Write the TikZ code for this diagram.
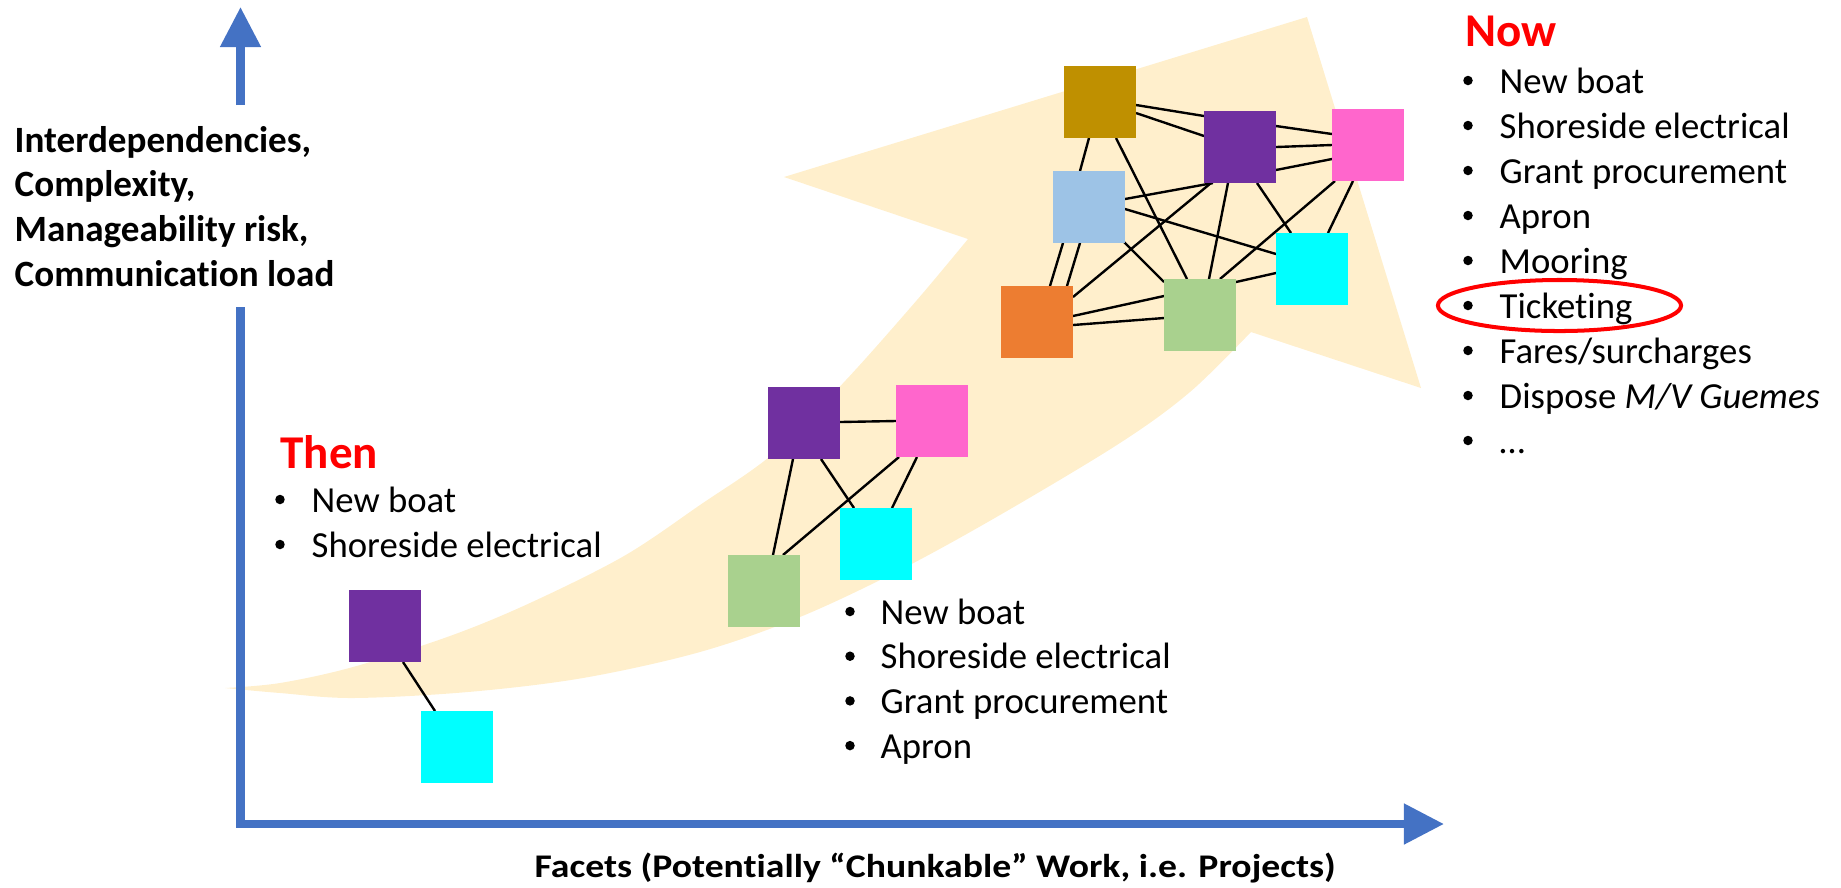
\documentclass[tikz,border=0pt]{standalone}
\usepackage{graphicx}
\usepackage{fontspec}
\setmainfont{Carlito}[Ligatures=NoCommon]
\usetikzlibrary{arrows.meta,calc,shapes.geometric}
\pgfdeclarelayer{bg}
\pgfsetlayers{bg,main}

\definecolor{sand}{HTML}{FFEFCC}
\definecolor{axisblue}{HTML}{4472C4}
\definecolor{cgold}{HTML}{BF9000}
\definecolor{cpurple}{HTML}{7030A0}
\definecolor{cpink}{HTML}{FF66CC}
\definecolor{clblue}{HTML}{9DC3E6}
\definecolor{ccyan}{HTML}{00FFFF}
\definecolor{corange}{HTML}{ED7D31}
\definecolor{cgreen}{HTML}{A9D18E}

\begin{document}
\begin{tikzpicture}[x=0.01cm,y=-0.01cm,
  sq/.style={minimum width=0.72cm, minimum height=0.72cm, inner sep=0pt, outer sep=0pt, fill=#1},
  link/.style={line width=0.68pt, black},
  axis/.style={draw=axisblue, line width=2.28pt, line join=miter,
    -{Triangle[length=11.4pt, width=11.1pt]}},
  itemtxt/.style={anchor=base west, inner sep=0pt, font=\fontsize{10.44pt}{12pt}\selectfont},
  headtxt/.style={anchor=base west, inner sep=0pt, text=red, font=\fontsize{13.37pt}{16pt}\selectfont\bfseries},
  ylabtxt/.style={anchor=base west, inner sep=0pt, font=\fontsize{10.55pt}{13pt}\selectfont\bfseries},
  xlabtxt/.style={anchor=base west, inner sep=0pt, font=\fontsize{9.4pt}{11pt}\selectfont\bfseries},
  bul/.style={fill=black}
]
\useasboundingbox (0,0) rectangle (1841,887);

% ---------- growth arrow in the background ----------
\begin{pgfonlayer}{bg}
\fill[sand] plot[smooth, tension=0.55] coordinates {(225,688) (280,693) (353,698) (468,692) (583,678) (700,652) (800,617) (900,570) (1000,515) (1120,443) (1190,392) (1251,332)}
  -- (1421,388) -- (1307,17) -- (784,177)
  -- plot[smooth, tension=0.55] coordinates {(968,239) (917,300) (846,380) (774,453) (700,505) (624,556) (530,603) (450,636) (353,667) (280,683) (225,688)}
  -- cycle;
\end{pgfonlayer}

% ---------- axes ----------
\coordinate (org) at (240.5,824);
\coordinate (ytip) at (240.5,7);
\coordinate (xtip) at (1444,824);
\coordinate (ygapb) at (240.5,307);
\coordinate (ygapt) at (240.5,105);
\draw[axis] (ygapb) -- (org) -- (xtip);
\draw[axis] (ygapt) -- (ytip);

\foreach \txt [count=\i] in {{Interdependencies,}, {Complexity,}, {Manageability risk,}, {Communication load}} {
  \node[ylabtxt] (ylab\i) at (14, {152+44.7*(\i-1)}) {\txt};
}
\node[xlabtxt] (xlab) at (534,877.5) {\scalebox{1.14}[1]{Facets (Potentially “Chunkable” Work, i.e. Projects)}};

% ---------- then: two facets ----------
\node[sq=cpurple] (P1) at (385,626) {};
\node[sq=ccyan] (C1) at (457,747) {};

% ---------- middle: four facets ----------
\node[sq=cpurple] (P2) at (804,423) {};
\node[sq=cpink] (K2) at (932,421) {};
\node[sq=ccyan] (C2) at (876,544) {};
\node[sq=cgreen] (N2) at (764,591) {};

% ---------- now: seven facets ----------
\node[sq=cgold] (G) at (1100,102) {};
\node[sq=cpurple] (P) at (1240,147) {};
\node[sq=cpink] (K) at (1368,145) {};
\node[sq=clblue] (B) at (1089,207) {};
\node[sq=ccyan] (C) at (1312,269) {};
\node[sq=corange] (O) at (1037,322) {};
\node[sq=cgreen] (N) at (1200,315) {};

% ---------- dependency links ----------
\begin{pgfonlayer}{bg}
\draw[link] ($(P1)+(18,36)$) -- ($(C1)+(-22,-36)$);

\draw[link] ($(P2)+(36,-1)$) -- ($(K2)+(-36,0)$);
\draw[link] ($(P2)+(-11,36)$) -- ($(N2)+(9,-36)$);
\draw[link] ($(P2)+(17,36)$) -- ($(C2)+(-22,-36)$);
\draw[link] ($(K2)+(-33,36)$) -- ($(N2)+(19,-36)$);
\draw[link] ($(K2)+(-15,36)$) -- ($(C2)+(16,-36)$);

\draw[link] ($(G)+(36,3)$) -- ($(P)+(-36,-31)$);
\draw[link] ($(G)+(36,11)$) -- ($(P)+(-36,-11)$);
\draw[link] ($(P)+(36,-21)$) -- ($(K)+(-36,-11)$);
\draw[link] ($(P)+(36,0)$) -- ($(K)+(-36,0)$);
\draw[link] ($(P)+(36,23)$) -- ($(K)+(-36,14)$);
\draw[link] ($(G)+(-11,36)$) -- ($(B)+(-9,-36)$);
\draw[link] ($(G)+(16,36)$) -- ($(N)+(-13,-36)$);
\draw[link] ($(B)+(36,-8)$) -- ($(P)+(-27,36)$);
\draw[link] ($(B)+(36,2)$) -- ($(C)+(-36,-15)$);
\draw[link] ($(B)+(35,35)$) -- ($(N)+(-36,-33)$);
\draw[link] ($(B)+(-26,36)$) -- ($(O)+(13,-36)$);
\draw[link] ($(B)+(-9,36)$) -- ($(O)+(30,-36)$);
\draw[link] ($(P)+(-29,36)$) -- ($(O)+(36,-25)$);
\draw[link] ($(P)+(-12,36)$) -- ($(N)+(9,-36)$);
\draw[link] ($(P)+(17,36)$) -- ($(C)+(-21,-36)$);
\draw[link] ($(K)+(-33,36)$) -- ($(N)+(20,-36)$);
\draw[link] ($(K)+(-15,36)$) -- ($(C)+(16,-36)$);
\draw[link] ($(C)+(-36,4)$) -- ($(N)+(36,-33)$);
\draw[link] ($(O)+(36,-6)$) -- ($(N)+(-36,-19)$);
\draw[link] ($(O)+(36,3)$) -- ($(N)+(-36,3)$);
\end{pgfonlayer}

% ---------- lists ----------
\node[headtxt] (thenhead) at (280,468) {Then};
\foreach \txt [count=\i] in {New boat, Shoreside electrical} {
  \node[itemtxt] (then\i) at (311, {512+45*(\i-1)}) {\txt};
  \fill[bul] ($(then\i.base west)+(-31,-12.5)$) circle[radius=1.35pt];
}

\foreach \txt [count=\i] in {New boat, Shoreside electrical, Grant procurement, Apron} {
  \node[itemtxt] (mid\i) at (880, {624+44.7*(\i-1)}) {\txt};
  \fill[bul] ($(mid\i.base west)+(-30,-12.5)$) circle[radius=1.35pt];
}

\node[headtxt] (nowhead) at (1465,46) {Now};
\foreach \txt [count=\i] in {New boat, Shoreside electrical, Grant procurement, Apron, Mooring, Ticketing, Fares/surcharges, {Dispose \textit{M/V Guemes}}, …} {
  \node[itemtxt] (now\i) at (1499, {93+45*(\i-1)}) {\txt};
  \fill[bul] ($(now\i.base west)+(-31,-12.5)$) circle[radius=1.35pt];
}

\node[draw=red, line width=1.14pt, ellipse, inner sep=0pt,
  minimum width=2.43cm, minimum height=0.51cm] (tick) at (1559.5,305.5) {};
\end{tikzpicture}
\end{document}
